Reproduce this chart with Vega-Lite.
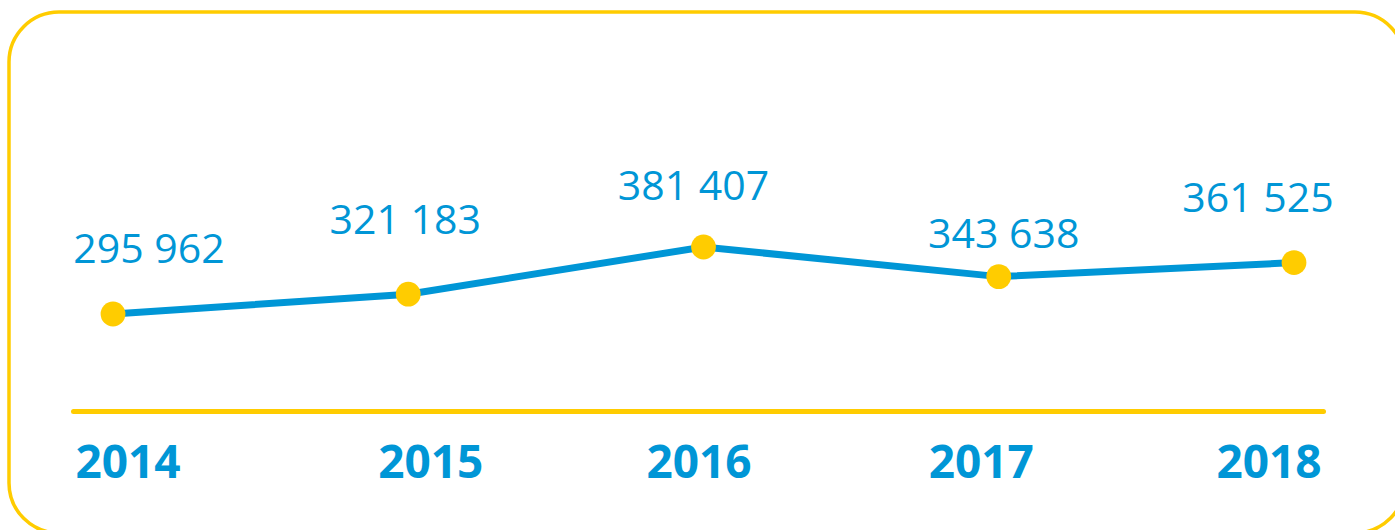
{
  "$schema": "https://vega.github.io/schema/vega-lite/v6.json",
  "width": 1396,
  "height": 521,
  "autosize": "none",
  "padding": {"left": 9, "top": 12, "right": -10, "bottom": -3},
  "background": "white",
  "config": {
    "view": {"stroke": "#FFCC00", "strokeWidth": 3.5, "cornerRadius": 50},
    "locale": {"number": {"decimal": ",", "thousands": " ", "grouping": [3], "currency": ["", ""]}}
  },
  "data": {
    "values": [
      {"year": 2014, "value": 295962},
      {"year": 2015, "value": 321183},
      {"year": 2016, "value": 381407},
      {"year": 2017, "value": 343638},
      {"year": 2018, "value": 361525}
    ]
  },
  "encoding": {
    "x": {
      "field": "year",
      "type": "quantitative",
      "scale": {"domain": [2013.8645, 2018.0982], "range": [64, 1314], "nice": false, "zero": false},
      "axis": {
        "title": null,
        "values": [2014, 2015, 2016, 2017, 2018],
        "format": "d",
        "grid": false,
        "ticks": false,
        "tickSize": 0,
        "offset": -122,
        "domainColor": "#FFCC00",
        "domainWidth": 5,
        "domainCap": "round",
        "labelFlush": false,
        "labelFont": "Open Sans",
        "labelFontSize": 46,
        "labelFontWeight": "bold",
        "labelColor": "#0096D6",
        "labelBaseline": "alphabetic",
        "labelAlign": "center",
        "labelPadding": 66,
        "labelOffset": {
          "condition": [
            {"test": "datum.value == 2014", "value": 14.5},
            {"test": "datum.value == 2015", "value": 22},
            {"test": "datum.value == 2016", "value": -5},
            {"test": "datum.value == 2017", "value": -18},
            {"test": "datum.value == 2018", "value": -25.5}
          ],
          "value": 0
        }
      }
    },
    "y": {
      "field": "value",
      "type": "quantitative",
      "scale": {"domain": [16668, 681101], "nice": false, "zero": false},
      "axis": null
    }
  },
  "layer": [
    {"mark": {"type": "line", "color": "#0096D6", "strokeWidth": 7, "strokeCap": "round"}},
    {"mark": {"type": "point", "filled": true, "color": "#FFCC00", "opacity": 1, "size": 615}},
    {
      "mark": {
        "type": "text", "font": "Open Sans", "fontSize": 41, "color": "#0096D6", "align": "center", "baseline": "alphabetic",
        "dx": {"expr": "datum.year == 2014 ? 36 : datum.year == 2015 ? -3 : datum.year == 2016 ? -10 : datum.year == 2017 ? 5 : -36"},
        "dy": {"expr": "datum.year == 2014 ? -51 : datum.year == 2015 ? -60 : datum.year == 2016 ? -47 : datum.year == 2017 ? -29 : -51"}
      },
      "encoding": {"text": {"field": "value", "type": "quantitative", "format": ","}}
    }
  ]
}
